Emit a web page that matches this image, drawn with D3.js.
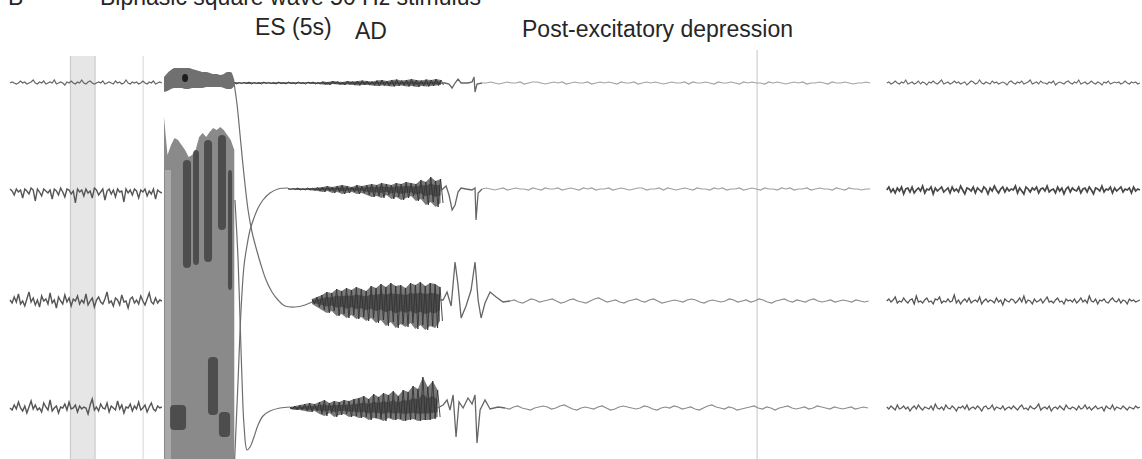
<!DOCTYPE html>
<html><head><meta charset="utf-8">
<script src="https://cdn.jsdelivr.net/npm/d3@7"></script>
<style>
body{margin:0;background:#fff}
svg{display:block}
text{font-family:"Liberation Sans",Arial,Helvetica,sans-serif;fill:#262626}
</style>
</head><body>
<svg id="chart" width="1142" height="459"></svg>
<script>
// ---------------- DATA (time in s, amplitude in a.u., + = up) ----------------
const TITLE = "B";
const SUBTITLE = "Biphasic square wave 50 Hz stimulus";
const LABEL_ES = "ES (5s)";
const LABEL_AD = "AD";
const LABEL_PED = "Post-excitatory depression";

const SHADE = [4.3, 6.05];          // shaded epoch (s)
const MARKS = [9.47, 53.13];        // vertical markers (s)
const ES_T0 = 10.95, ES_DT = 0.25;  // stimulation 5 s
const PRE_DT = 0.15, AD_DT = 0.35, DEP_DT = 0.3, RIGHT_T0 = 62.35, RIGHT_DT = 0.15;

// trace 1
const T1_PRE = [0,1,0,-1,0,2,0,1,-1,0,1,3,0,-1,1,0,2,-1,0,1,0,3,-1,0,1,0,-2,1,0,2,
 0,-1,1,0,3,0,-1,1,2,0,-1,0,1,0,2,-1,0,1,0,-1,2,0,1,-1,0,3,0,-1,1,0,
 1,-1,0,2,0,-1,1,0,2,-1,0,1,0];
const T1_ES_HI = [6,10,13,15,15,15,15,15,14,13,12,11,11,10,9,9,8,9,11,11,3];
const T1_ES_LO = [-9,-8,-6,-5,-5,-5,-6,-6,-5,-5,-5,-5,-4,-4,-4,-4,-4,-5,-6,-6,-3];
const T1_ES_DOT = [12.45, 5];
const T1_AD_HI = [1,0.5,0.5,1,0.5,0.5,1,0.5,0.5,1,0.5,1,0.5,1,0.5,1,1,0.5,1.5,1,2,1.5,1,2,1.5,2,2.5,2,1.5,2.5,3,2,3,3.5,2.5,3,4,3,2.5,3.5,3,4,3];
const T1_AD_LO = [-1,-0.5,-0.5,-1,-0.5,-1,-0.5,-0.5,-1,-0.5,-1,-0.5,-1,-0.5,-1,-0.5,-1,-1,-1.5,-2,-1,-1.5,-2,-1.5,-2,-2.5,-2,-2,-2.5,-3,-2.5,-3,-3.5,-3,-2.5,-3.5,-3,-4,-3,-3.5,-3,-2.5,-2];
const T1_SPK = [[30.65,0],[30.94,0],[31.22,-1],[31.44,-5],[31.65,0],[31.86,4],[32.08,0],[32.57,0],[32.86,1],[33.0,6],[33.07,-9],[33.21,-1],[33.57,0]];
const T1_DEP = [0,0,1,0,-1,0,1,0,0,1,-1,0,1,1,0,-1,0,1,0,1,-1,0,1,0,0,1,-1,0,1,0,
 1,0,-1,1,0,0,1,-1,0,1,0,1,0,-1,0,1,0,0,1,-1,1,0,0,1,0,-1,1,0,0,1,
 0,-1,1,0,1,0,0,-1,1,0,1,0,-1,0,1,0,1,-1,0,0,1,0,-1,1,0,0,1,0,-1,0,0,1,0];
const T1_R = [0,1,-1,0,2,0,-1,1,0,3,-1,0,1,-1,0,2,-1,1,0,-2,1,0,2,0,-1,1,3,-1,0,1,
 -1,0,2,0,1,-1,0,1,-2,0,2,1,-1,0,3,0,-1,1,0,-1,2,0,1,-1,0,1,0,-2,1,2,
 0,-1,1,0,2,-1,0,1,3,-1,0,1,-1,2,0,0,-1,1,0,2,-2,0,1,0,-1,1,2,0,-1,1,
 0,3,-1,0,1,-1,0,2,0,-1,1,0,-2,1,0,2,-1,0,1,0,1,-1,0,2,0,-1,1,0,1,-1,0];

// trace 2
const T2_PRE = [0,-2,-6,0,-3,-1,-9,0,-2,-5,1,-1,-12,0,-3,-7,0,-2,-4,-1,-10,0,-2,-6,1,-3,-8,0,-1,-5,
 -2,-14,0,-3,-1,-7,0,-4,-2,-9,1,-1,-6,-3,0,-11,-2,0,-5,-1,-8,0,-3,-2,-13,0,-4,-1,-6,0,
 -2,-9,-1,-3,0,-7,-2,-5,0,-10,-1,-3,-4];
const ES_TOP = [72,34,44,51,49,44,39,32,34,39,52,56,52,57,61,59,62,59,54,49,39];
const ES_FLOOR = -300;
const ES_DARK = [[12.30,12.87,29,-79],[13.02,13.44,39,-76],[13.80,14.37,49,-73],[14.79,15.36,54,-41],[15.50,15.79,19,-101],[11.38,12.52,-216,-241],[14.08,14.79,-168,-226],[14.86,15.65,-223,-248]];
const ES_LIGHT = [[11.02,11.45,19,-300]];
const T2_REC = [[15.93,-285],[16.22,-191],[16.43,-121],[16.64,-77],[16.86,-56],[17.07,-41],[17.35,-29],[17.64,-19],[17.99,-11],[18.49,-4],[19.06,0],[19.77,1]];
const T2_AD_HI = [0.5,0.5,1,0.5,1,1,1.5,2,3,2,3,4,3,2,4,3,4,5,4,6,5,4,6,5,7,6,5,9,7,12,8,10];
const T2_AD_LO = [-0.5,-0.5,-1,-1,-1,-1.5,-2,-3,-2,-4,-3,-5,-4,-3,-5,-4,-6,-8,-7,-9,-6,-10,-8,-11,-9,-7,-12,-10,-16,-13,-18,-14];
const T2_SPK = [[30.62,-2],[31.01,3],[31.22,-6],[31.44,-21],[31.65,-16],[31.86,-3],[32.08,1],[32.43,0],[32.86,-1],[33.07,1],[33.14,-31],[33.29,-4],[33.57,0]];
const T2_DEP = [0,1,0,-1,0,1,-1,0,1,0,0,-1,1,0,-1,1,0,0,1,-1,0,1,0,-1,1,0,1,-1,0,0,
 1,-1,0,1,0,-1,0,1,1,-1,0,0,1,-1,1,0,-1,0,1,0,-1,1,0,0,-1,1,0,1,-1,0,
 0,1,-1,0,1,0,-1,1,0,0,-1,1,0,1,-1,0,0,1,-1,0,1,0,0,-1,1,0,-1,1,0,0,-1,0,0];
const T2_R = [-1,2,-3,0,-4,1,-2,2,-5,0,1,-3,2,-4,-1,1,-2,3,-4,0,-1,2,-5,1,-2,0,2,-3,-1,1,
 -4,2,-2,0,-3,3,-1,-5,1,0,-2,2,-4,1,-1,-3,2,0,-5,1,-2,3,-1,-4,0,2,-3,1,-2,0,
 -1,3,-4,1,-2,-5,2,0,-3,1,-1,2,-4,0,1,-2,3,-3,-1,0,-4,2,-2,1,-5,0,2,-3,1,-1,
 -2,2,-4,0,1,-3,2,-1,-5,1,0,-2,3,-3,0,-1,2,-4,1,-2,0,2,-3,0,-1,1,-4,2,-2,0,-1];

// trace 3
const T3_PRE = [1,-2,4,-1,7,-3,0,-5,2,9,-1,3,-4,1,-6,5,0,2,-3,8,-2,1,-7,4,0,-3,6,-1,3,-5,
 2,0,5,-3,1,-2,7,-4,0,3,-6,1,4,-1,-3,2,9,-2,0,-5,3,1,-4,6,-1,0,-7,2,4,-2,
 1,-3,5,0,-4,2,8,-1,-3,3,-2,1,0];
const T3_REC = [[15.93,218],[16.15,196],[16.36,166],[16.64,126],[16.93,91],[17.21,69],[17.5,53],[17.85,36],[18.21,21],[18.63,9],[19.06,1],[19.56,-5],[20.27,-6],[20.98,-4],[21.48,-1]];
const T3_AD_HI = [2,4,6,9,8,12,10,13,11,14,12,10,15,13,17,14,18,15,16,13,18,16,19,15,18,17,14];
const T3_AD_LO = [-3,-6,-9,-12,-10,-15,-13,-17,-14,-18,-16,-20,-17,-22,-19,-25,-21,-27,-23,-26,-22,-28,-24,-29,-25,-27,-20];
const T3_SPK = [[30.58,1],[30.80,1],[31.08,9],[31.37,-5],[31.65,39],[31.86,16],[32.08,-17],[32.43,-5],[32.79,11],[33.07,39],[33.29,1],[33.50,-17],[33.78,-2],[34.14,9],[34.57,4],[35.06,-1],[35.56,0]];
const T3_DEP = [0,1,-1,-2,0,2,1,-1,0,1,2,0,-2,-1,1,2,0,-1,-2,0,2,3,1,-1,0,1,-1,-2,0,1,
 2,0,-1,1,2,0,-2,-1,0,1,0,-1,1,2,1,-1,-2,0,1,0,-1,0,2,1,-1,0,1,-1,0,2,
 1,-1,-2,0,1,2,0,-1,1,0,-1,1,2,0,-1,0,1,-1,0,1,0,-1,1,0,-1,0];
const T3_R = [0,2,-1,1,4,-2,0,-1,3,0,-2,1,2,-3,5,-1,0,-2,1,3,-1,0,-3,2,1,4,-2,0,-1,2,
 -1,0,6,-2,1,-3,0,2,-1,3,-2,0,1,-1,4,-3,0,2,-1,1,0,-2,3,-1,1,-4,2,0,-1,2,
 1,-2,0,3,-1,5,-2,1,0,-3,2,-1,0,2,-2,1,4,-1,0,-2,1,3,-1,0,-3,2,0,1,-1,2,
 -2,0,3,-1,1,-2,5,0,-1,2,-3,1,0,2,-1,-2,1,3,0,-1,2,-2,1,0,-3,2,0,1,-1,0,1];

// trace 4
const T4_PRE = [0,-2,3,-1,6,0,-3,2,-5,1,7,-1,3,-2,0,-4,5,1,-2,8,-3,0,2,-5,1,0,4,-2,6,-1,
 0,3,-4,2,-1,1,0,-6,3,9,-2,1,-3,4,0,-1,5,-4,2,0,-2,7,-1,3,-5,1,0,4,-3,2,
 -1,6,-2,0,3,-4,1,5,-1,-3,2,0,1];
const T4_REC = [[16.0,208],[16.22,148],[16.36,88],[16.5,28],[16.64,-17],[16.86,-42],[17.07,-39],[17.35,-29],[17.64,-17],[17.99,-8],[18.49,-3],[19.2,0],[19.91,1]];
const T4_AD_HI = [1,2,3,4,5,4,6,8,5,7,6,8,7,9,10,12,9,14,11,15,13,17,12,18,16,22,19,31,21,27,18];
const T4_AD_LO = [-1,-2,-2,-3,-4,-3,-6,-8,-5,-9,-7,-6,-9,-8,-10,-9,-12,-10,-11,-13,-10,-12,-11,-13,-12,-11,-13,-12,-12,-11,-9];
const T4_SPK = [[30.41,0],[30.8,3],[31.08,8],[31.29,-2],[31.51,13],[31.72,-29],[31.93,6],[32.22,0],[32.57,10],[32.86,4],[33.07,13],[33.21,-35],[33.43,-2],[33.78,8],[34.14,-1],[34.71,1],[35.21,0]];
const T4_DEP = [0,-1,1,2,0,-1,-2,0,1,2,1,-1,0,2,3,1,-1,-2,0,1,0,-1,1,2,0,-2,-1,1,2,1,
 0,-1,0,2,1,-1,-2,0,1,0,2,1,-1,0,1,-1,-2,0,2,3,1,0,-1,1,0,-2,-1,0,1,2,
 0,-1,1,0,-2,0,1,2,0,-1,0,1,-1,0,2,1,0,-1,1,0,-1,0,1,-1,0,1,0];
const T4_R = [1,-1,2,0,-2,3,-1,0,2,-1,1,-3,0,2,-1,3,0,-2,1,0,-1,2,-2,4,0,-1,1,-2,3,0,
 -1,2,0,-3,1,0,2,-1,3,-2,0,1,-1,2,0,-3,1,2,-1,0,3,-2,1,0,-1,2,-2,0,1,-1,
 2,0,-2,1,3,-1,0,-2,2,0,-1,1,4,-2,0,1,-1,2,-3,0,1,-1,2,0,-2,3,0,-1,1,0,
 -2,2,-1,0,3,-1,1,-2,0,2,-1,0,1,-3,2,0,-1,3,-2,1,0,-1,2,0,-2,1,0,-1,2,0,1];

const TRACES = [
  {pre:T1_PRE, rec:null,   adT0:15.95, adHi:T1_AD_HI, adLo:T1_AD_LO, spk:T1_SPK, depT0:33.57, dep:T1_DEP, right:T1_R},
  {pre:T2_PRE, rec:T2_REC, adT0:19.77, adHi:T2_AD_HI, adLo:T2_AD_LO, spk:T2_SPK, depT0:33.57, dep:T2_DEP, right:T2_R},
  {pre:T3_PRE, rec:T3_REC, adT0:21.48, adHi:T3_AD_HI, adLo:T3_AD_LO, spk:T3_SPK, depT0:35.56, dep:T3_DEP, right:T3_R},
  {pre:T4_PRE, rec:T4_REC, adT0:19.91, adHi:T4_AD_HI, adLo:T4_AD_LO, spk:T4_SPK, depT0:35.21, dep:T4_DEP, right:T4_R}
];

// ---------------- LAYOUT / STYLE ----------------
const W = 1142, H = 459;
const BASE = [83, 189, 301, 408];
const TOP_MARK = 56;
const STYLE = {
  preW: [1.2, 1.4, 1.4, 1.4], preC: ['#666', '#555', '#555', '#555'],
  depC: ['#a3a3a3', '#a0a0a0', '#8c8c8c', '#8c8c8c'],
  rightW: [1.1, 1.7, 1.3, 1.3], rightC: ['#6a6a6a', '#474747', '#565656', '#5c5c5c']
};
const svg = d3.select('#chart');
const defs = svg.append('defs');
defs.append('filter').attr('id','soft').attr('x','-5%').attr('y','-5%').attr('width','110%').attr('height','110%')
  .append('feGaussianBlur').attr('stdDeviation',0.6);

const xs = d3.scaleLinear().domain([0, 80.5]).range([10, 1142]);
const yS = BASE.map(b => d3.scaleLinear().domain([-100, 100]).range([b + 100, b - 100]));
const seq = (t0, dt, vals) => vals.map((v, i) => [t0 + i * dt, v]);
const band = (t0, dt, hi, lo, k=1) => hi.map((h, i) => [t0 + i * dt, h * k, lo[i] * k]);
const zig = (t0, dt, hi, lo) => hi.flatMap((h, i) => [[t0 + i * dt, h], [t0 + (i + 0.5) * dt, lo[i]]]);
const lineGen = (ys, curve) => d3.line().x(d => xs(d[0])).y(d => ys(d[1])).curve(curve || d3.curveLinear);
const areaGen = (ys, curve) => d3.area().x(d => xs(d[0])).y1(d => ys(d[1])).y0(d => ys(d[2])).curve(curve || d3.curveLinear);

// background annotations
const gA = svg.append('g');
gA.append('rect').attr('x', xs(SHADE[0])).attr('y', TOP_MARK)
  .attr('width', xs(SHADE[1]) - xs(SHADE[0])).attr('height', H - TOP_MARK).attr('fill', '#e6e6e6');
SHADE.forEach(t => gA.append('line').attr('x1', xs(t)).attr('x2', xs(t)).attr('y1', TOP_MARK).attr('y2', H)
  .attr('stroke', '#cbcbcb').attr('stroke-width', 1.2));
MARKS.forEach((t, i) => gA.append('line').attr('x1', xs(t)).attr('x2', xs(t)).attr('y1', i ? 50 : TOP_MARK).attr('y2', H)
  .attr('stroke', i ? '#cfcfcf' : '#dedede').attr('stroke-width', 1.2));

// texts
const gT = svg.append('g').attr('font-size', 23);
gT.append('text').attr('x', 8).attr('y', 5).text(TITLE);
gT.append('text').attr('x', 100).attr('y', 5).text(SUBTITLE);
gT.append('text').attr('x', 255).attr('y', 35).text(LABEL_ES);
gT.append('text').attr('x', 355).attr('y', 39).text(LABEL_AD);
gT.append('text').attr('x', 522).attr('y', 37).text(LABEL_PED);

// traces
const g = svg.append('g').attr('filter', 'url(#soft)');

// ES block (traces 2-4 saturated), drawn on trace-2 scale
const esPts = ES_TOP.map((v, i) => [ES_T0 + i * ES_DT, v, ES_FLOOR]);
g.append('path').datum(esPts).attr('d', areaGen(yS[1])).attr('fill', '#8a8a8a');
ES_LIGHT.forEach(d => g.append('rect').attr('x', xs(d[0])).attr('width', xs(d[1]) - xs(d[0]))
  .attr('y', yS[1](d[2])).attr('height', yS[1](d[3]) - yS[1](d[2])).attr('fill', '#a9a9a9'));
ES_DARK.forEach(d => g.append('rect').attr('x', xs(d[0])).attr('width', xs(d[1]) - xs(d[0]))
  .attr('y', yS[1](d[2])).attr('height', yS[1](d[3]) - yS[1](d[2])).attr('rx', 4)
  .attr('fill', '#3a3a3a').attr('opacity', 0.75));

// ES blob on trace 1
const t1es = band(ES_T0, ES_DT, T1_ES_HI, T1_ES_LO);
g.append('path').datum(t1es).attr('d', areaGen(yS[0], d3.curveMonotoneX)).attr('fill', '#707070');
g.append('ellipse').attr('cx', xs(T1_ES_DOT[0])).attr('cy', yS[0](T1_ES_DOT[1])).attr('rx', 3).attr('ry', 4).attr('fill', '#1e1e1e');

TRACES.forEach((tr, k) => {
  const ys = yS[k];
  // pre-stimulus
  g.append('path').datum(seq(0, PRE_DT, tr.pre)).attr('d', lineGen(ys))
    .attr('fill', 'none').attr('stroke', STYLE.preC[k]).attr('stroke-width', STYLE.preW[k]);
  // recovery after ES
  if (tr.rec) g.append('path').datum(tr.rec).attr('d', lineGen(ys, d3.curveCatmullRom))
    .attr('fill', 'none').attr('stroke', '#6e6e6e').attr('stroke-width', 1.2);
  // after-discharge: dark envelope + oscillation texture
  g.append('path').datum(band(tr.adT0, AD_DT, tr.adHi, tr.adLo)).attr('d', areaGen(ys))
    .attr('fill', '#585858').attr('opacity', 0.8);
  g.append('path').datum(band(tr.adT0, AD_DT, tr.adHi, tr.adLo, 0.45)).attr('d', areaGen(ys))
    .attr('fill', '#3a3a3a').attr('opacity', 0.7);
  g.append('path').datum(zig(tr.adT0, AD_DT, tr.adHi, tr.adLo)).attr('d', lineGen(ys))
    .attr('fill', 'none').attr('stroke', '#333').attr('stroke-width', 0.9);
  // terminal spikes
  g.append('path').datum(tr.spk).attr('d', lineGen(ys))
    .attr('fill', 'none').attr('stroke', '#666').attr('stroke-width', 1.3);
  // post-excitatory depression
  g.append('path').datum(seq(tr.depT0, DEP_DT, tr.dep)).attr('d', lineGen(ys))
    .attr('fill', 'none').attr('stroke', STYLE.depC[k]).attr('stroke-width', 1.2);
  // later segment
  g.append('path').datum(seq(RIGHT_T0, RIGHT_DT, tr.right)).attr('d', lineGen(ys))
    .attr('fill', 'none').attr('stroke', STYLE.rightC[k]).attr('stroke-width', STYLE.rightW[k]);
});
</script>
</body></html>
